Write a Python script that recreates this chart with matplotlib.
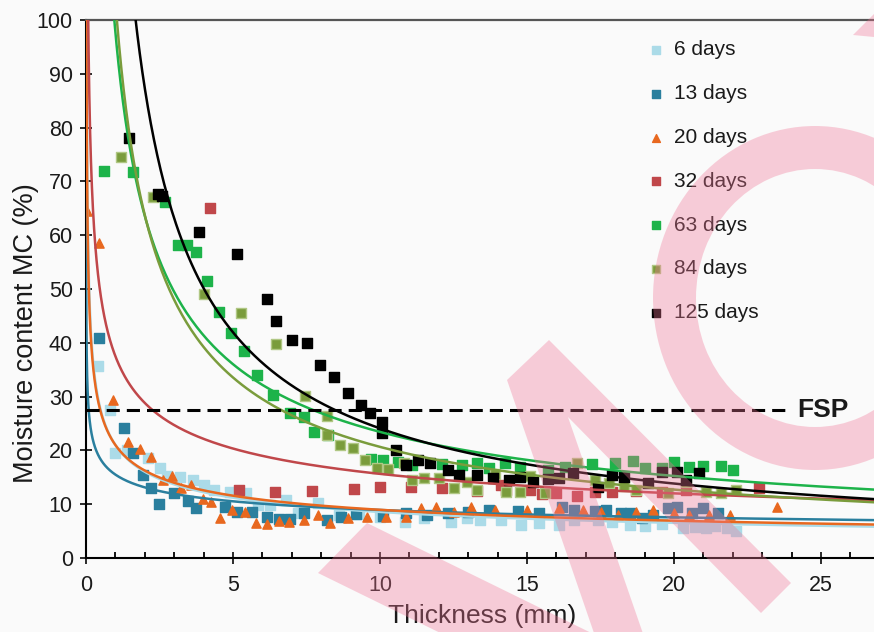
import numpy as np
import matplotlib
matplotlib.use('Agg')
import matplotlib.pyplot as plt
from matplotlib.patches import Annulus, Polygon
from matplotlib.transforms import IdentityTransform
from matplotlib.ticker import MultipleLocator

plt.rcParams['font.family'] = ['Liberation Sans', 'DejaVu Sans']

# ---------------------------------------------------------------
# data (thickness mm, moisture content %)
# ---------------------------------------------------------------
x6 = [0.4, 0.8, 1.0, 1.4, 2.1, 2.5, 2.75, 3.2, 3.65, 4.0, 4.35, 4.9, 5.45, 5.85, 6.25, 6.8, 7.2, 7.9, 8.6, 9.3,
      10.0, 10.85, 11.5, 12.4, 12.95, 13.4, 14.1, 14.8, 15.4, 16.1, 16.6, 17.4, 17.9, 18.5, 19.0, 19.6, 20.3, 20.7,
      21.1, 21.4, 21.8, 22.1]
y6 = [35.6, 27.6, 19.5, 20.1, 18.6, 16.7, 15.2, 15.1, 14.5, 13.6, 12.6, 12.3, 12.1, 9.9, 9.9, 10.8, 8.4, 10.3, 8.0, 8.2,
      7.6, 6.7, 7.4, 6.7, 7.4, 7.1, 7.1, 6.1, 6.5, 6.1, 7.1, 7.1, 6.7, 6.1, 5.9, 6.3, 5.6, 5.8,
      5.6, 5.9, 5.6, 5.0]

x13 = [0.44, 1.29, 1.6, 1.94, 2.2, 2.48, 2.99, 3.47, 3.74, 4.73, 5.14, 5.65, 6.15, 6.57, 6.94, 7.4, 8.2, 8.67, 9.18, 10.1,
       10.9, 11.6, 12.3, 13.0, 13.7, 14.7, 15.4, 16.2, 16.6, 17.3, 17.7, 18.2, 18.5, 18.9, 19.3, 19.8, 20.1, 20.6,
       21.0, 21.5]
y13 = [40.9, 24.1, 19.5, 15.4, 13.0, 10.0, 12.1, 10.6, 9.3, 9.5, 8.6, 8.6, 7.6, 7.2, 7.2, 8.4, 7.1, 7.6, 8.2, 7.8,
       8.4, 8.0, 8.4, 8.6, 8.9, 8.7, 8.4, 9.5, 8.9, 8.7, 8.9, 8.4, 8.4, 7.4, 8.0, 9.3, 9.5, 8.4,
       9.3, 8.4]

x20 = [0.05, 0.44, 0.93, 1.42, 1.84, 2.2, 2.63, 2.91, 3.22, 3.56, 3.97, 4.24, 4.56, 4.95, 5.4, 5.77, 6.15, 6.55, 6.9, 7.4,
       7.9, 8.3, 8.9, 9.55, 10.2, 10.9, 11.4, 11.9, 12.5, 13.1, 13.9, 15.0, 16.1, 16.9, 17.5, 18.1, 18.7, 19.3, 20.0,
       20.5, 21.2, 21.9, 23.5]
y20 = [64.5, 58.5, 29.4, 21.6, 20.2, 18.8, 14.5, 15.2, 13.0, 13.6, 11.0, 10.4, 7.4, 8.9, 8.6, 6.5, 6.3, 6.9, 6.7, 7.1,
       8.0, 6.5, 7.4, 7.6, 7.6, 7.6, 9.3, 9.5, 8.6, 9.5, 8.9, 8.9, 9.3, 8.9, 8.6, 8.0, 8.6, 8.9, 8.4,
       8.0, 8.0, 8.0, 9.5]

x32 = [4.22, 5.2, 6.43, 7.7, 9.1, 10.0, 11.05, 12.1, 13.3, 14.1, 14.3, 15.1, 15.5, 16.0, 16.7, 17.3, 17.9, 18.7, 19.6,
       20.4, 22.9]
y32 = [65.0, 12.6, 12.3, 12.5, 12.8, 13.2, 13.2, 13.0, 12.5, 13.6, 12.6, 12.6, 11.9, 12.1, 11.5, 12.3, 12.3, 12.4, 12.3,
       12.6, 13.0]

x63 = [0.61, 1.6, 2.69, 3.14, 3.45, 3.74, 4.1, 4.54, 4.93, 5.38, 5.83, 6.37, 6.94, 7.4, 7.75, 8.23, 9.7, 10.1, 10.6, 11.1,
       12.1, 12.8, 13.3, 13.7, 14.25, 14.76, 15.7, 16.3, 17.2, 18.0, 18.6, 19.0, 19.6, 20.0, 20.5, 21.0, 21.6, 22.0]
y63 = [72.0, 71.8, 66.1, 58.2, 58.2, 56.9, 51.5, 45.8, 41.9, 38.5, 34.0, 30.3, 26.9, 26.2, 23.4, 22.9, 18.4, 18.2, 17.9,
       17.3, 17.5, 17.3, 17.7, 16.7, 17.7, 17.0, 16.4, 17.0, 17.5, 17.7, 18.0, 16.7, 16.7, 17.9, 17.0, 17.1, 17.1, 16.4]

x84 = [1.19, 2.28, 4.02, 5.26, 6.46, 7.45, 8.2, 8.2, 8.64, 9.08, 9.5, 9.9, 10.27, 10.8, 11.1, 11.5, 12.0, 12.5, 12.95,
       13.3, 13.9, 14.3, 14.75, 15.1, 15.6, 16.7, 17.3, 17.8, 18.3, 18.7, 19.8, 20.4, 21.1, 21.6, 22.1]
y84 = [74.6, 67.1, 49.1, 45.6, 39.8, 30.1, 26.4, 22.9, 21.0, 20.4, 18.2, 16.7, 16.5, 17.7, 14.5, 14.9, 14.9, 13.0, 14.1,
       12.6, 15.6, 12.3, 12.3, 15.2, 12.1, 17.7, 14.5, 13.9, 13.4, 12.6, 12.1, 14.1, 12.3, 12.1, 12.6]

x125 = [1.45, 2.45, 2.6, 3.85, 5.15, 6.15, 6.45, 7.0, 7.5, 7.95, 8.45, 8.9, 9.35, 9.65, 10.05, 10.05, 10.55, 10.9, 11.3,
        11.7, 12.3, 12.7, 13.3, 13.85, 14.4, 14.75, 15.2, 15.7, 16.1, 16.55, 17.4, 17.9, 18.3, 19.1, 19.6, 20.1, 20.4,
        20.85]
y125 = [78.0, 67.6, 67.3, 60.6, 56.5, 48.1, 44.1, 40.5, 39.9, 35.9, 33.6, 30.6, 28.5, 26.9, 25.3, 23.2, 20.1, 17.3, 18.2,
        17.6, 16.4, 15.4, 15.4, 14.9, 14.5, 15.1, 14.1, 14.7, 14.9, 15.8, 13.2, 15.4, 15.0, 14.0, 16.0, 16.0, 14.5,
        15.8]

labels = ['6 days', '13 days', '20 days', '32 days', '63 days', '84 days', '125 days']
xdata = [x6, x13, x20, x32, x63, x84, x125]
ydata = [y6, y13, y20, y32, y63, y84, y125]

# power trendlines MC = a * t^b
trend_a = [21.0, 15.5, 21.0, 37.5, 97.7, 103.5, 152.0]
trend_b = [-0.39, -0.24, -0.37, -0.38, -0.62, -0.70, -0.80]

fsp_level = 27.5
fsp_end = 23.9

# styles
colors = ['#abdbe8', '#2a7f9e', '#e8681f', '#c0474a', '#1db34a', '#7a9c3c', '#000000']
edges = ['#abdbe8', '#2a7f9e', '#e8681f', '#c0474a', '#1db34a', '#b0c784', '#000000']
markers = ['s', 's', '^', 's', 's', 's', 's']

#############################################################################

fig = plt.figure(figsize=(8.74, 6.32), dpi=100, facecolor='#fafafa')
ax = fig.add_axes([86 / 874, 74 / 632, 788 / 874, 538 / 632])
ax.set_facecolor('#fafafa')

xs = np.logspace(-4, np.log10(27), 800)
handles = []
for i in range(len(labels)):
    h = ax.scatter(xdata[i], ydata[i], marker=markers[i], s=44, facecolor=colors[i],
                   edgecolor=edges[i], linewidths=1.0, label=labels[i], zorder=3)
    handles.append(h)
    ax.plot(xs, trend_a[i] * xs ** trend_b[i], color=colors[i], lw=1.8, zorder=4)

# fibre saturation point
ax.plot([0, fsp_end], [fsp_level, fsp_level], color='black', lw=2.2, dashes=(4.3, 2.3), zorder=5)
ax.text(fsp_end + 0.3, fsp_level, 'FSP', fontsize=19, fontweight='bold', va='center', ha='left',
        color='#1a1a1a', zorder=5)

ax.set_xlim(0, 26.8)
ax.set_ylim(0, 100)
ax.xaxis.set_major_locator(MultipleLocator(5))
ax.xaxis.set_minor_locator(MultipleLocator(1))
ax.yaxis.set_major_locator(MultipleLocator(10))

ax.spines['right'].set_visible(False)
ax.spines['top'].set_color('#555555')
ax.spines['top'].set_linewidth(1.6)
for s in ['left', 'bottom']:
    ax.spines[s].set_linewidth(1.5)
    ax.spines[s].set_color('black')

ax.tick_params(axis='x', which='major', direction='inout', length=8, width=1.3, labelsize=15.5,
               pad=8, colors='#1a1a1a')
ax.tick_params(axis='x', which='minor', direction='in', length=4, width=1.3)
ax.tick_params(axis='y', which='major', direction='inout', length=9, width=1.3, labelsize=15.5,
               pad=5, colors='#1a1a1a')

ax.set_xlabel('Thickness (mm)', fontsize=19, color='#1a1a1a')
ax.xaxis.set_label_coords(0.503, -0.085)
ax.set_ylabel('Moisture content MC (%)', fontsize=19.5, color='#1a1a1a')
ax.yaxis.set_label_coords(-0.060, 0.418)

leg = ax.legend(handles=handles, loc='upper left', bbox_to_anchor=(0.716, 0.962), frameon=False,
                fontsize=15, handlelength=0.6, handletextpad=0.55, labelspacing=1.19, borderpad=0,
                borderaxespad=0, markerscale=0.85, scatterpoints=1)
for t in leg.get_texts():
    t.set_color('#1a1a1a')

# pink watermark over the picture (image pixel coords, y down)
H = 632
wm_color = (241 / 255, 118 / 255, 150 / 255)
ring = Annulus((815, H - 298), (162, 172), 43, transform=IdentityTransform(),
               facecolor=wm_color, edgecolor='none', alpha=0.35, zorder=10)
fig.add_artist(ring)
wm_strokes = [
    [(318, 573), (367, 523), (728, 700), (577, 700)],
    [(507, 380), (549, 340), (791, 583), (761, 613), (568, 417), (666, 700), (617, 700)],
    [(853, 35), (874, 14), (874, 37)],
]
for pts in wm_strokes:
    p = Polygon([(px, H - py) for px, py in pts], closed=True, transform=IdentityTransform(),
                facecolor=wm_color, edgecolor='none', alpha=0.35, zorder=10)
    fig.add_artist(p)

fig.savefig('out.png', dpi=100, facecolor=fig.get_facecolor())
